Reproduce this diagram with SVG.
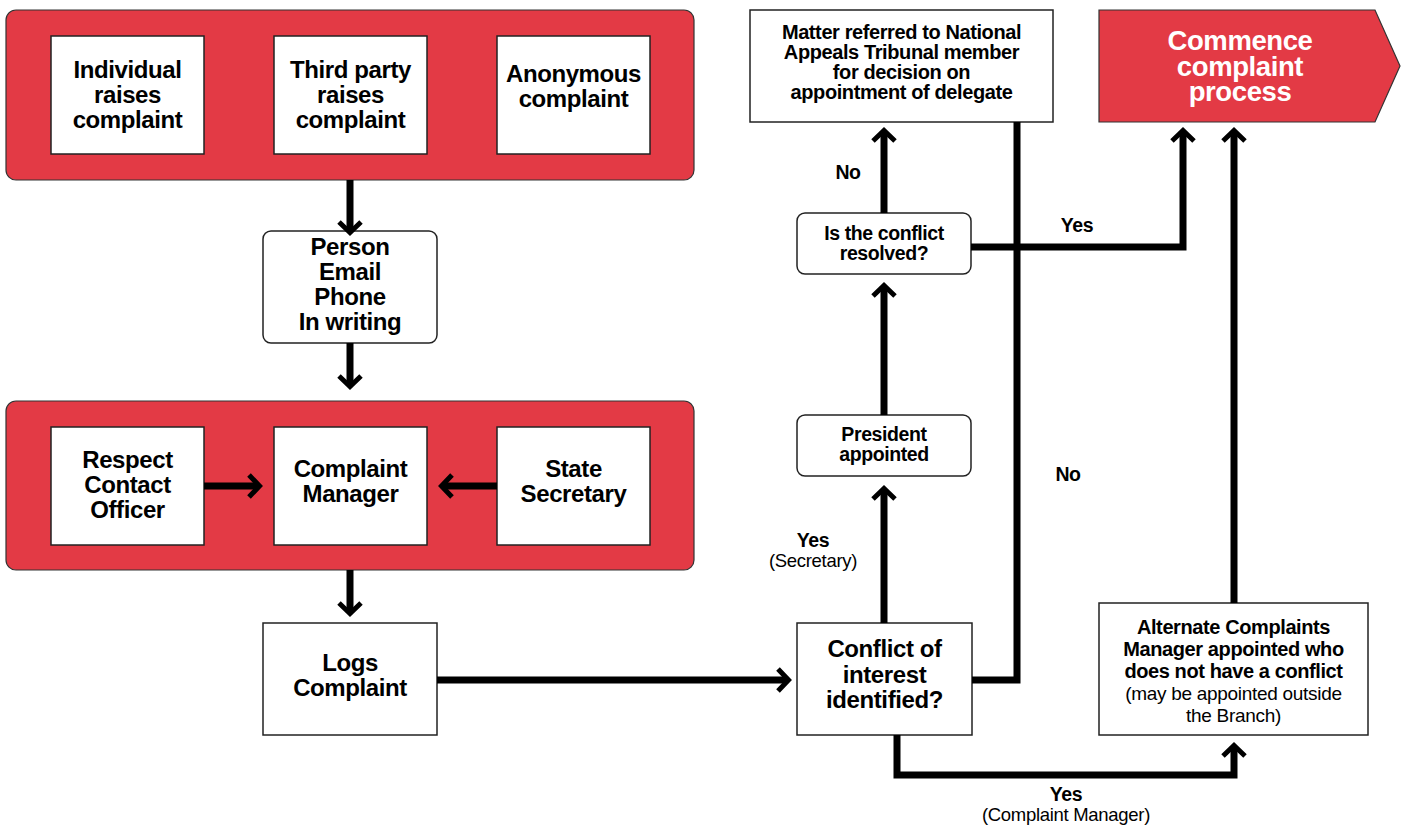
<svg xmlns="http://www.w3.org/2000/svg" width="1407" height="826" viewBox="0 0 1407 826">
<style>
.panel{fill:#e33a45;stroke:#333;stroke-width:1.2}
.box{fill:#fff;stroke:#222;stroke-width:1.5}
.t{font-family:"Liberation Sans",Arial,sans-serif;font-weight:bold;text-anchor:middle;fill:#000;letter-spacing:-0.4px}
.r{font-family:"Liberation Sans",Arial,sans-serif;font-weight:normal;text-anchor:middle;fill:#000;letter-spacing:-0.3px}
.w{fill:#fff}
.c{fill:none;stroke:#000;stroke-width:7;stroke-linejoin:miter}
</style>
<defs>
<marker id="ah" markerUnits="userSpaceOnUse" markerWidth="32" markerHeight="32" viewBox="-20 -16 32 32" refX="-4" refY="0" orient="auto">
<path d="M-12,-11 L-1.5,0 L-12,11" fill="none" stroke="#000" stroke-width="5" stroke-linejoin="miter"/>
</marker>
</defs>
<rect width="1407" height="826" fill="#fff"/>

<g id="panel-sources">
<rect class="panel" x="6" y="10" width="688" height="170" rx="10"/>
</g>
<g id="individual">
<rect class="box" x="51" y="36" width="153" height="118"/>
<text class="t" font-size="24" x="127.5" y="78">Individual</text>
<text class="t" font-size="24" x="127.5" y="103">raises</text>
<text class="t" font-size="24" x="127.5" y="128">complaint</text>
</g>
<g id="thirdparty">
<rect class="box" x="274" y="36" width="153" height="118"/>
<text class="t" font-size="24" x="350.5" y="78">Third party</text>
<text class="t" font-size="24" x="350.5" y="103">raises</text>
<text class="t" font-size="24" x="350.5" y="128">complaint</text>
</g>
<g id="anonymous">
<rect class="box" x="497" y="36" width="153" height="118"/>
<text class="t" font-size="24" x="573.5" y="82">Anonymous</text>
<text class="t" font-size="24" x="573.5" y="107">complaint</text>
</g>

<g id="channels">
<rect class="box" x="263" y="231" width="174" height="112" rx="8"/>
<text class="t" font-size="24" x="350" y="255">Person</text>
<text class="t" font-size="24" x="350" y="280">Email</text>
<text class="t" font-size="24" x="350" y="305">Phone</text>
<text class="t" font-size="24" x="350" y="330">In writing</text>
</g>

<g id="panel-receivers">
<rect class="panel" x="6" y="401" width="688" height="169" rx="10"/>
</g>
<g id="respect">
<rect class="box" x="51" y="427" width="153" height="118"/>
<text class="t" font-size="24" x="127.5" y="468">Respect</text>
<text class="t" font-size="24" x="127.5" y="493">Contact</text>
<text class="t" font-size="24" x="127.5" y="518">Officer</text>
</g>
<g id="complaintmanager">
<rect class="box" x="274" y="427" width="153" height="118"/>
<text class="t" font-size="24" x="350.5" y="477">Complaint</text>
<text class="t" font-size="24" x="350.5" y="502">Manager</text>
</g>
<g id="statesecretary">
<rect class="box" x="497" y="427" width="153" height="118"/>
<text class="t" font-size="24" x="573.5" y="477">State</text>
<text class="t" font-size="24" x="573.5" y="502">Secretary</text>
</g>

<g id="logs">
<rect class="box" x="263" y="623" width="174" height="112"/>
<text class="t" font-size="24" x="350" y="671">Logs</text>
<text class="t" font-size="24" x="350" y="696">Complaint</text>
</g>

<g id="conflict">
<rect class="box" x="797" y="623" width="175" height="112"/>
<text class="t" font-size="24" x="884.5" y="657">Conflict of</text>
<text class="t" font-size="24" x="884.5" y="682.5">interest</text>
<text class="t" font-size="24" x="884.5" y="708">identified?</text>
</g>

<g id="president">
<rect class="box" x="797" y="415" width="174" height="61" rx="8"/>
<text class="t" font-size="19.5" x="884" y="441">President</text>
<text class="t" font-size="19.5" x="884" y="461">appointed</text>
</g>

<g id="resolved">
<rect class="box" x="797" y="213" width="174" height="61" rx="8"/>
<text class="t" font-size="19.5" x="884" y="240">Is the conflict</text>
<text class="t" font-size="19.5" x="884" y="260">resolved?</text>
</g>

<g id="matter">
<rect class="box" x="750" y="10" width="303" height="112"/>
<text class="t" font-size="20" x="901.5" y="39">Matter referred to National</text>
<text class="t" font-size="20" x="901.5" y="59">Appeals Tribunal member</text>
<text class="t" font-size="20" x="901.5" y="79">for decision on</text>
<text class="t" font-size="20" x="901.5" y="99">appointment of delegate</text>
</g>

<g id="commence">
<path d="M1099,10 H1375 L1400,66 L1375,122 H1099 Z" fill="#e33a45" stroke="#333" stroke-width="1.2"/>
<text class="t w" font-size="27.5" x="1240" y="50">Commence</text>
<text class="t w" font-size="27.5" x="1240" y="75.5">complaint</text>
<text class="t w" font-size="27.5" x="1240" y="101">process</text>
</g>

<g id="alternate">
<rect class="box" x="1099" y="603" width="269" height="132"/>
<text class="t" font-size="20" x="1233.5" y="634">Alternate Complaints</text>
<text class="t" font-size="20" x="1233.5" y="656">Manager appointed who</text>
<text class="t" font-size="20" x="1233.5" y="678">does not have a conflict</text>
<text class="r" font-size="19" x="1233.5" y="700">(may be appointed outside</text>
<text class="r" font-size="19" x="1233.5" y="722">the Branch)</text>
</g>

<g id="connectors">
<path class="c" d="M350,180 V230" marker-end="url(#ah)"/>
<path class="c" d="M350,343 V384" marker-end="url(#ah)"/>
<path class="c" d="M350,570 V611" marker-end="url(#ah)"/>
<path class="c" d="M204,486 H257" marker-end="url(#ah)"/>
<path class="c" d="M497,486 H444" marker-end="url(#ah)"/>
<path class="c" d="M437,680 H786" marker-end="url(#ah)"/>
<path class="c" d="M884,623 V491" marker-end="url(#ah)"/>
<path class="c" d="M884,415 V288" marker-end="url(#ah)"/>
<path class="c" d="M884,213 V133" marker-end="url(#ah)"/>
<path class="c" d="M971,247 H1183 V133" marker-end="url(#ah)"/>
<path class="c" d="M1234,603 V133" marker-end="url(#ah)"/>
<path class="c" d="M897,735 V775 H1234 V748" marker-end="url(#ah)"/>
<path class="c" d="M972,680 H1017 V122"/>
<text class="t" font-size="19.5" x="848" y="179">No</text>
<text class="t" font-size="19.5" x="1077" y="232">Yes</text>
<text class="t" font-size="19.5" x="1068" y="481">No</text>
<text class="t" font-size="19.5" x="813" y="547">Yes</text>
<text class="r" font-size="18.5" x="813" y="567">(Secretary)</text>
<text class="t" font-size="19.5" x="1066" y="801">Yes</text>
<text class="r" font-size="18.5" x="1066" y="821">(Complaint Manager)</text>
</g>
</svg>
